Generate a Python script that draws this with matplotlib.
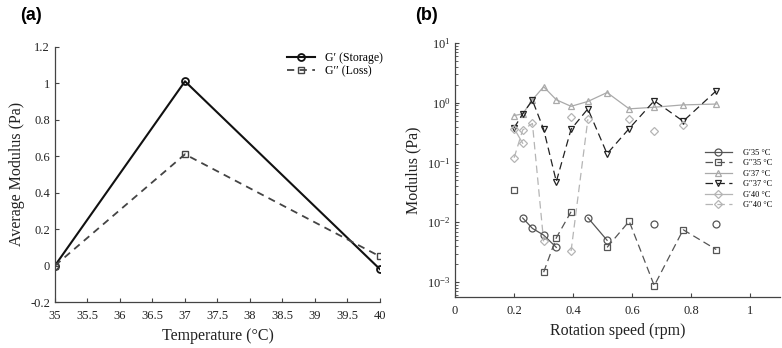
import matplotlib
matplotlib.use('Agg')
import matplotlib.pyplot as plt
import numpy as np

plt.rcParams['font.family'] = ['Liberation Serif', 'DejaVu Serif']
plt.rcParams['mathtext.fontset'] = 'stix'

# (a) average modulus vs temperature
temp = [35, 37, 40]
g_storage = [0.0, 1.01, -0.02]
g_loss = [0.0, 0.61, 0.05]

# (b) modulus vs rotation speed (nan = no point)
nan = np.nan
speed = [0.2, 0.229, 0.262, 0.300, 0.343, 0.393, 0.450, 0.515, 0.590, 0.675, 0.773, 0.885]
g1_35 = [nan, 0.0118, 0.0079, 0.0061, 0.0038, nan, 0.0119, 0.0050, nan, 0.0095, nan, 0.0092]
g2_35 = [0.035, nan, nan, 0.00146, 0.0055, 0.015, nan, 0.0038, 0.0104, 0.00087, 0.0075, 0.0035]
g1_37 = [0.61, 0.65, 1.12, 1.85, 1.12, 0.87, 1.05, 1.48, 0.79, 0.84, 0.92, 0.95]
g2_37 = [0.38, 0.65, 1.10, 0.36, 0.048, 0.36, 0.79, 0.14, 0.37, 1.08, 0.49, 1.58]
g1_40 = [0.37, 0.21, nan, nan, nan, 0.57, nan, nan, nan, 0.34, nan, nan]
g2_40 = [0.12, 0.35, 0.45, 0.0048, nan, 0.0033, 0.53, nan, 0.53, nan, 0.43, nan]

fig = plt.figure(figsize=(7.82, 3.48), dpi=100)
axa = fig.add_axes([0.0703, 0.132, 0.4156, 0.734])
axb = fig.add_axes([0.582, 0.1466, 0.415, 0.730])

spine_c = '#444444'
for ax in (axa, axb):
    ax.spines['top'].set_visible(False)
    ax.spines['right'].set_visible(False)
    for s in ('left', 'bottom'):
        ax.spines[s].set_color(spine_c)
        ax.spines[s].set_linewidth(0.9)
    ax.tick_params(direction='in', length=3, width=0.8, color=spine_c, labelsize=9, labelcolor='#222222')

# ---- panel (a)
axa.plot(temp, g_storage, '-', color='#111111', lw=1.5, marker='o', ms=5, mfc='none', mew=1.3, label='G\u2032 (Storage)')
axa.plot(temp, g_loss, '--', color='#444444', lw=1.3, marker='s', ms=4.5, mfc='none', mew=1.0,
         dashes=(4, 3), label='G\u2032\u2032 (Loss)')
axa.set_xlim(35, 40)
axa.set_ylim(-0.2, 1.2)
axa.set_xticks(np.arange(35, 40.01, 0.5))
axa.set_xticklabels(['35', '35.5', '36', '36.5', '37', '37.5', '38', '38.5', '39', '39.5', '40'])
axa.set_yticks([-0.2, 0, 0.2, 0.4, 0.6, 0.8, 1, 1.2])
axa.set_yticklabels(['-0.2', '0', '0.2', '0.4', '0.6', '0.8', '1', '1.2'])
axa.tick_params(axis='x', pad=6)
axa.set_xlabel('Temperature (\u00b0C)', fontsize=11.5, color='#222222')
axa.set_ylabel('Average Modulus (Pa)', fontsize=11.5, color='#222222')
axa.legend(loc='upper left', bbox_to_anchor=(0.714, 0.98), frameon=False, fontsize=8.5,
           handlelength=2.4, handletextpad=0.8, labelspacing=0.1, borderpad=0, borderaxespad=0)

# ---- panel (b)
dark = '#555555'
lite = '#aaaaaa'
lite2 = '#b5b5b5'
kw = dict(ms=5, mfc='none', mew=0.9, lw=0.9)
dsh = (6, 3.5)
axb.plot(speed, g1_35, '-', color=dark, marker='o', label='G\u203235 \u00b0C', **kw)
axb.plot(speed, g2_35, '--', color=dark, marker='s', dashes=dsh, label='G\u2032\u203235 \u00b0C', **kw)
axb.plot(speed, g1_37, '-', color=lite, marker='^', label='G\u203237 \u00b0C', **kw)
axb.plot(speed, g2_37, '--', color='#222222', marker='v', dashes=dsh, label='G\u2032\u203237 \u00b0C', **kw)
axb.plot(speed, g1_40, '-', color=lite2, marker='D', label='G\u203240 \u00b0C', ms=4.5, mfc='none', mew=0.9, lw=0.9)
axb.plot(speed, g2_40, '--', color=lite2, marker='D', dashes=dsh, label='G\u2032\u203240 \u00b0C',
         ms=4.5, mfc='none', mew=0.9, lw=0.9)
axb.set_yscale('log')
axb.set_ylim(10 ** -3.25, 10)
axb.set_xlim(0, 1.1)
axb.set_xticks([0, 0.2, 0.4, 0.6, 0.8, 1])
axb.set_xticklabels(['0', '0.2', '0.4', '0.6', '0.8', '1'])
axb.set_yticks([1e-3, 1e-2, 1e-1, 1, 10])
axb.tick_params(axis='y', which='minor', direction='in', length=2, width=0.6, color=spine_c)
axb.tick_params(axis='x', pad=6)
axb.set_xlabel('Rotation speed (rpm)', fontsize=11.5, color='#222222')
axb.set_ylabel('Modulus (Pa)', fontsize=11.5, color='#222222')
axb.legend(loc='center left', bbox_to_anchor=(0.77, 0.465), frameon=False, fontsize=6,
           handlelength=3.2, handletextpad=1.3, labelspacing=0.3, borderpad=0, borderaxespad=0)

fig.text(0.026, 0.955, '(a)', fontsize=13, fontweight='bold', family='Liberation Sans', va='center')
fig.text(0.531, 0.955, '(b)', fontsize=13, fontweight='bold', family='Liberation Sans', va='center')

fig.savefig('out.png', dpi=100)
